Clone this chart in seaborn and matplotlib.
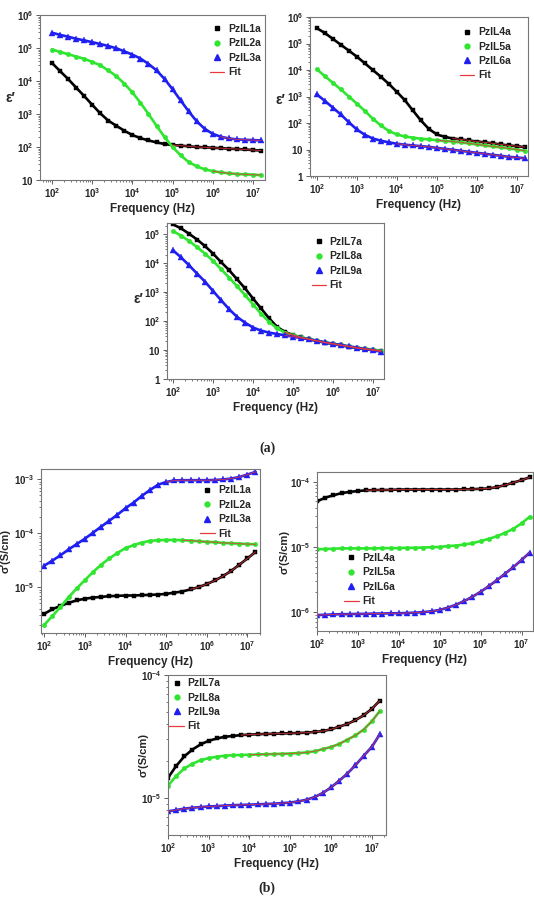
import numpy as np
import pandas as pd
import seaborn as sns
import matplotlib
matplotlib.use("Agg")
import matplotlib.pyplot as plt
from matplotlib.lines import Line2D
from matplotlib.ticker import LogLocator, FuncFormatter, NullFormatter

sns.set_style("ticks")
plt.rcParams["font.family"] = ["Liberation Sans", "DejaVu Sans"]
plt.rcParams["mathtext.fontset"] = "custom"
plt.rcParams["mathtext.rm"] = "Liberation Sans"
plt.rcParams["mathtext.bf"] = "Liberation Sans:bold"
plt.rcParams["mathtext.it"] = "Liberation Sans:italic"

# frequency grid (Hz), read every 0.2 decade
FREQ = [1.00e2, 1.58e2, 2.51e2, 3.98e2, 6.31e2,
        1.00e3, 1.58e3, 2.51e3, 3.98e3, 6.31e3,
        1.00e4, 1.58e4, 2.51e4, 3.98e4, 6.31e4,
        1.00e5, 1.58e5, 2.51e5, 3.98e5, 6.31e5,
        1.00e6, 1.58e6, 2.51e6, 3.98e6, 6.31e6,
        1.00e7, 1.58e7]

# (a) real permittivity
EPS_IL1 = [3.5e4, 2.0e4, 1.15e4, 6.3e3, 3.5e3, 1.9e3, 1.05e3, 630, 440, 310, 230, 186, 158, 138,
           123, 115, 110, 105, 100, 98, 95, 92, 89, 87, 84, 81, 78]
EPS_IL2 = [9.0e4, 7.6e4, 6.5e4, 5.5e4, 4.7e4, 3.8e4, 3.0e4, 2.1e4, 1.4e4, 8.3e3, 4.5e3, 2.2e3, 1.0e3, 440,
           200, 100, 56, 35, 26, 21, 18.6, 17, 16, 15.2, 14.8, 14.5, 14.1]
EPS_IL3 = [2.9e5, 2.5e5, 2.2e5, 1.9e5, 1.7e5, 1.5e5, 1.32e5, 1.15e5, 9.8e4, 7.9e4, 6.3e4, 4.8e4, 3.3e4, 2.1e4,
           1.15e4, 5.6e3, 2.6e3, 1.2e3, 600, 355, 250, 205, 182, 170, 165, 162, 158]
EPS_IL4 = [3.8e5, 2.5e5, 1.5e5, 9.0e4, 5.4e4, 3.2e4, 1.8e4, 1.0e4, 5.6e3, 3.0e3, 1.5e3, 730, 300, 126,
           60, 37, 30, 26, 24, 22, 20, 18.6, 17, 15.5, 14.2, 13.4, 12.3]
EPS_IL5 = [1.07e4, 5.9e3, 3.3e3, 1.85e3, 1.0e3, 540, 290, 145, 81, 50, 37, 31, 28, 25.5,
           24, 22.5, 21, 20, 18.5, 17, 15.6, 14.2, 13, 12, 11, 10, 8.9]
EPS_IL6 = [1.2e3, 690, 380, 210, 107, 57, 36, 26, 21.5, 18.6, 16.5, 15.2, 14.2, 13.4,
           12.6, 11.5, 10.6, 9.8, 8.9, 8.2, 7.5, 6.9, 6.3, 5.8, 5.3, 5.0, 4.7]
EPS_IL7 = [2.2e5, 1.6e5, 1.05e5, 6.6e4, 3.9e4, 2.15e4, 1.1e4, 5.8e3, 2.8e3, 1.35e3, 600, 275, 125, 63,
           42, 33, 27.5, 23.5, 20.5, 18, 16.2, 14.5, 13, 11.6, 10.7, 10.0, 9.3]
EPS_IL8 = [1.3e5, 9.0e4, 5.9e4, 3.6e4, 2.15e4, 1.2e4, 6.3e3, 3.2e3, 1.6e3, 790, 375, 180, 95, 56,
           40, 32, 27.5, 24, 21, 18.3, 16.5, 14.8, 13.4, 12, 11.2, 10.3, 9.5]
EPS_IL9 = [2.8e4, 1.6e4, 8.5e3, 4.4e3, 2.3e3, 1.1e3, 530, 260, 140, 88, 60, 47, 40, 36,
           32, 29, 26, 23.5, 21, 18.3, 16.5, 14.8, 13.4, 12, 10.8, 9.8, 8.8]

# (b) real conductivity (S/cm)
SIG_IL1 = [3.2e-6, 3.9e-6, 4.5e-6, 5.1e-6, 5.7e-6, 6.1e-6, 6.4e-6, 6.6e-6, 6.8e-6, 6.9e-6, 7.0e-6, 7.0e-6,
           7.1e-6, 7.2e-6, 7.3e-6, 7.5e-6, 7.9e-6, 8.3e-6, 9.1e-6, 1.0e-5, 1.14e-5, 1.33e-5, 1.6e-5,
           2.0e-5, 2.6e-5, 3.4e-5, 4.5e-5]
SIG_IL2 = [2.0e-6, 2.9e-6, 4.3e-6, 6.5e-6, 9.5e-6, 1.35e-5, 1.9e-5, 2.6e-5, 3.4e-5, 4.3e-5, 5.3e-5, 6.0e-5,
           6.7e-5, 7.2e-5, 7.4e-5, 7.5e-5, 7.5e-5, 7.4e-5, 7.3e-5, 7.1e-5, 6.9e-5, 6.8e-5, 6.6e-5,
           6.5e-5, 6.4e-5, 6.3e-5, 6.2e-5]
SIG_IL3 = [2.5e-5, 3.1e-5, 3.9e-5, 5.0e-5, 6.3e-5, 7.9e-5, 1.02e-4, 1.32e-4, 1.7e-4, 2.2e-4, 2.9e-4, 3.7e-4,
           4.9e-4, 6.3e-4, 7.9e-4, 8.9e-4, 9.5e-4, 9.6e-4, 9.6e-4, 9.6e-4, 9.6e-4, 9.7e-4, 9.9e-4,
           1.03e-3, 1.1e-3, 1.22e-3, 1.37e-3]
SIG_IL4 = [5.0e-5, 5.7e-5, 6.2e-5, 6.7e-5, 7.0e-5, 7.2e-5, 7.4e-5, 7.45e-5, 7.5e-5, 7.5e-5, 7.6e-5, 7.6e-5,
           7.6e-5, 7.6e-5, 7.6e-5, 7.6e-5, 7.6e-5, 7.6e-5, 7.65e-5, 7.7e-5, 7.8e-5, 7.9e-5, 8.3e-5,
           8.9e-5, 9.7e-5, 1.06e-4, 1.17e-4]
SIG_IL5 = [9.2e-6, 9.3e-6, 9.4e-6, 9.5e-6, 9.5e-6, 9.5e-6, 9.5e-6, 9.5e-6, 9.6e-6, 9.6e-6, 9.6e-6, 9.7e-6,
           9.7e-6, 9.8e-6, 9.9e-6, 1.0e-5, 1.03e-5, 1.05e-5, 1.09e-5, 1.14e-5, 1.23e-5, 1.33e-5, 1.46e-5,
           1.65e-5, 1.9e-5, 2.3e-5, 2.9e-5]
SIG_IL6 = [9.0e-7, 9.1e-7, 9.2e-7, 9.3e-7, 9.3e-7, 9.4e-7, 9.4e-7, 9.5e-7, 9.5e-7, 9.6e-7, 9.6e-7, 9.7e-7,
           9.8e-7, 1.0e-6, 1.03e-6, 1.08e-6, 1.17e-6, 1.3e-6, 1.48e-6, 1.72e-6, 2.05e-6, 2.5e-6, 3.1e-6,
           3.9e-6, 4.9e-6, 6.3e-6, 8.2e-6]
SIG_IL7 = [1.46e-5, 1.82e-5, 2.18e-5, 2.48e-5, 2.73e-5, 2.92e-5, 3.05e-5, 3.15e-5, 3.2e-5, 3.25e-5, 3.28e-5,
           3.3e-5, 3.32e-5, 3.33e-5, 3.35e-5, 3.36e-5, 3.38e-5, 3.4e-5, 3.45e-5, 3.5e-5, 3.62e-5, 3.8e-5,
           4.0e-5, 4.3e-5, 4.7e-5, 5.3e-5, 6.2e-5]
SIG_IL8 = [1.26e-5, 1.51e-5, 1.74e-5, 1.9e-5, 2.03e-5, 2.11e-5, 2.17e-5, 2.21e-5, 2.23e-5, 2.24e-5, 2.25e-5,
           2.26e-5, 2.27e-5, 2.28e-5, 2.29e-5, 2.3e-5, 2.32e-5, 2.35e-5, 2.4e-5, 2.5e-5, 2.6e-5, 2.75e-5,
           2.98e-5, 3.23e-5, 3.6e-5, 4.2e-5, 5.1e-5]
SIG_IL9 = [7.8e-6, 8.0e-6, 8.2e-6, 8.35e-6, 8.45e-6, 8.55e-6, 8.6e-6, 8.7e-6, 8.75e-6, 8.8e-6, 8.85e-6,
           8.9e-6, 8.95e-6, 9.0e-6, 9.1e-6, 9.2e-6, 9.4e-6, 9.7e-6, 1.02e-5, 1.1e-5, 1.22e-5, 1.38e-5,
           1.58e-5, 1.85e-5, 2.2e-5, 2.6e-5, 3.3e-5]

# lowest frequency where the fit curve is drawn (None = no visible fit)
FIT_FROM = {
    "a1": [1.0e5, 1.0e6, 1.58e6], "a2": [2.51e5, 1.0e5, 1.0e4], "a3": [6.31e4, 6.31e4, 6.31e4],
    "b1": [3.98e5, 2.51e5, 1.0e5], "b2": [1.58e3, None, 1.0e2], "b3": [6.31e3, 1.0e4, 1.0e2],
}

BLACK, GREEN, BLUE, FIT = "#000000", "#2fe52f", "#1f1ff2", "#e8383d"
STYLE = [(BLACK, "s", 3.0), (GREEN, "o", 3.2), (BLUE, "^", 3.8)]

fig = plt.figure(figsize=(5.34, 9.08), dpi=100)

def pos(l, t, r, b):
    W, H = 534, 908
    return [l / W, 1 - b / H, (r - l) / W, (b - t) / H]

panels = [
    dict(key="a1", rect=pos(40, 15, 265, 180), names=["PzIL1a", "PzIL2a", "PzIL3a"],
         data=[EPS_IL1, EPS_IL2, EPS_IL3], xl=(10**1.70, 10**7.30), yl=(1e1, 1e6),
         kind="eps", ylab=(-0.13, 0.50), leg=(0.835, 0.945)),
    dict(key="a2", rect=pos(310, 17, 528, 176), names=["PzIL4a", "PzIL5a", "PzIL6a"],
         data=[EPS_IL4, EPS_IL5, EPS_IL6], xl=(10**1.83, 10**7.28), yl=(1, 1e6),
         kind="eps", ylab=(-0.135, 0.48), leg=(0.77, 0.935)),
    dict(key="a3", rect=pos(167, 223, 384, 379), names=["PzIL7a", "PzIL8a", "PzIL9a"],
         data=[EPS_IL7, EPS_IL8, EPS_IL9], xl=(10**1.85, 10**7.27), yl=(1, 10**5.39),
         kind="eps", ylab=(-0.13, 0.51), leg=(0.75, 0.91)),
    dict(key="b1", rect=pos(41, 469, 260, 633), names=["PzIL1a", "PzIL2a", "PzIL3a"],
         data=[SIG_IL1, SIG_IL2, SIG_IL3], xl=(10**1.92, 10**7.31), yl=(10**-5.85, 10**-2.81),
         kind="sig", ylab=(-0.16, 0.5), leg=(0.81, 0.90)),
    dict(key="b2", rect=pos(317, 472, 533, 631), names=["PzIL4a", "PzIL5a", "PzIL6a"],
         data=[SIG_IL4, SIG_IL5, SIG_IL6], xl=(1e2, 10**7.28), yl=(10**-6.29, 10**-3.85),
         kind="sig", ylab=(-0.148, 0.5), leg=(0.21, 0.49)),
    dict(key="b3", rect=pos(168, 675, 386, 835), names=["PzIL7a", "PzIL8a", "PzIL9a"],
         data=[SIG_IL7, SIG_IL8, SIG_IL9], xl=(1e2, 10**7.35), yl=(10**-5.30, 1e-4),
         kind="sig", ylab=(-0.11, 0.5), leg=(0.09, 0.98)),
]

def pow_fmt(v, p):
    if v <= 0:
        return ""
    e = int(round(np.log10(v)))
    if e == 0:
        return r"$\mathbf{1}$"
    if e == 1:
        return r"$\mathbf{10}$"
    return r"$\mathbf{10^{%d}}$" % e

for P in panels:
    ax = fig.add_axes(P["rect"])
    ax.set_xscale("log")
    ax.set_yscale("log")
    for (color, mk, ms), vals, start in zip(STYLE, P["data"], FIT_FROM[P["key"]]):
        sns.lineplot(x=FREQ, y=vals, ax=ax, color=color, marker=mk, markersize=ms,
                     markeredgewidth=0.3, markeredgecolor=color, linewidth=1.9,
                     legend=False, zorder=2)
        if start is not None:
            fx = [f for f in FREQ if f >= start]
            fy = [v for f, v in zip(FREQ, vals) if f >= start]
            sns.lineplot(x=fx, y=fy, ax=ax, color=FIT, linewidth=0.8, alpha=0.75,
                         legend=False, zorder=3)
    ax.set_xlim(*P["xl"])
    ax.set_ylim(*P["yl"])
    for axis in (ax.xaxis, ax.yaxis):
        axis.set_major_locator(LogLocator(base=10, numticks=20))
        axis.set_minor_locator(LogLocator(base=10, subs=np.arange(2, 10), numticks=100))
        axis.set_major_formatter(FuncFormatter(pow_fmt))
        axis.set_minor_formatter(NullFormatter())
    ax.tick_params(which="major", direction="out", length=3, width=0.6, pad=1.5,
                   labelsize=7, color="#444444")
    ax.tick_params(which="minor", direction="out", length=1.6, width=0.5, color="#444444")
    for sp in ax.spines.values():
        sp.set_color("#777777")
        sp.set_linewidth(0.8)
    ax.set_xlabel("Frequency (Hz)", fontsize=8.5, fontweight="bold", labelpad=2)
    if P["kind"] == "eps":
        ax.set_ylabel("ε′", fontsize=10, fontweight="bold", rotation=0, ha="center", va="center")
    else:
        ax.set_ylabel("σ′(S/cm)", fontsize=8, fontweight="bold", va="center")
    ax.yaxis.set_label_coords(*P["ylab"])

    handles = [Line2D([], [], ls="none", marker=mk, color=c, markersize=ms + 0.3)
               for c, mk, ms in STYLE]
    handles.append(Line2D([], [], color=FIT, linewidth=0.9))
    labels = P["names"] + ["Fit"]
    fs = 7.5
    tx, ty = P["leg"]
    w = P["rect"][2] * 534
    x0 = tx - (1.4 + 0.35) * fs * 1.389 / w
    ax.legend(handles, labels, loc="upper left", bbox_to_anchor=(x0, ty), frameon=False,
              prop=dict(size=fs, weight="bold"), handlelength=1.4, handletextpad=0.35,
              labelspacing=0.42, borderpad=0, borderaxespad=0, numpoints=1)

fig.text(0.5, 1 - 448 / 908, "(a)", ha="center", va="center", fontsize=10,
         fontweight="bold", family="Liberation Serif")
fig.text(0.5, 1 - 888 / 908, "(b)", ha="center", va="center", fontsize=10,
         fontweight="bold", family="Liberation Serif")

fig.savefig("out.png", dpi=100)
